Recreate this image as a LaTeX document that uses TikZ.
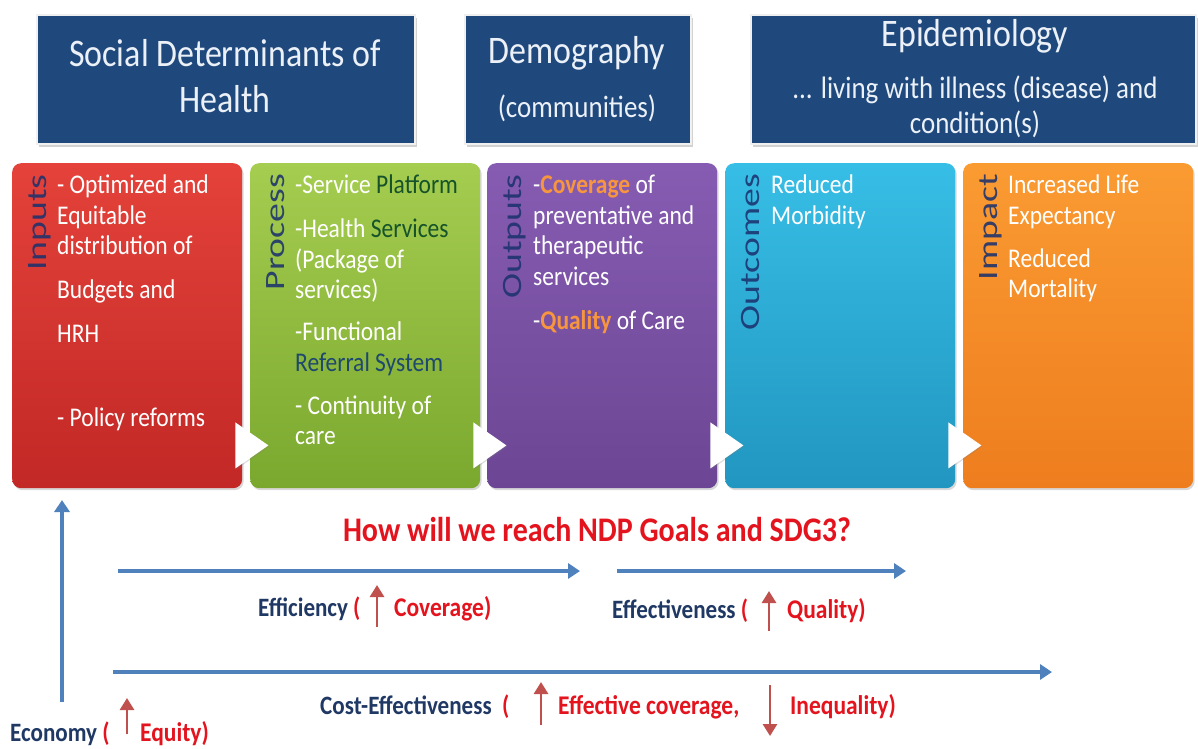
\documentclass[tikz,border=0pt]{standalone}
\usepackage{fontspec}
\usepackage{graphicx}
\setmainfont{Carlito}[FakeStretch=0.87]
\usetikzlibrary{arrows.meta,shadows,calc}

\definecolor{hdrblue}{RGB}{31,73,125}
\definecolor{hdrtxt}{RGB}{236,241,248}
\definecolor{redT}{RGB}{228,66,58}
\definecolor{redB}{RGB}{194,40,38}
\definecolor{grnT}{RGB}{165,205,80}
\definecolor{grnB}{RGB}{122,168,46}
\definecolor{purT}{RGB}{134,92,178}
\definecolor{purB}{RGB}{108,70,148}
\definecolor{cyaT}{RGB}{55,190,230}
\definecolor{cyaB}{RGB}{33,150,192}
\definecolor{oraT}{RGB}{250,155,50}
\definecolor{oraB}{RGB}{238,125,30}
\definecolor{lblblue}{RGB}{28,50,110}
\definecolor{darkgrn}{RGB}{22,82,42}
\definecolor{refblue}{RGB}{30,72,110}
\definecolor{orgword}{RGB}{247,150,62}
\definecolor{arrblue}{RGB}{79,129,189}
\definecolor{navy}{RGB}{31,56,100}
\definecolor{titlered}{RGB}{228,20,30}
\definecolor{arrred}{RGB}{192,80,77}

\tikzset{
  hdr/.style={draw=white!88!gray, line width=1.5pt, fill=hdrblue, anchor=north west,
    inner sep=0, drop shadow={opacity=0.35, shadow xshift=2pt, shadow yshift=-3pt}},
  htxtL/.style={text=hdrtxt, inner sep=0, align=center, font=\fontsize{39}{46}\selectfont},
  htxtS/.style={text=hdrtxt, inner sep=0, align=center, font=\fontsize{31}{35}\selectfont},
  card/.style={rounded corners=9pt, anchor=north west, minimum width=230pt,
    minimum height=325pt, inner sep=0,
    drop shadow={opacity=0.3, shadow xshift=1.5pt, shadow yshift=-2pt}},
  body/.style={text=white, anchor=north west, inner sep=0, align=left,
    font=\fontsize{27}{30.5}\selectfont},
  vlabel/.style={rotate=90, anchor=north east, inner sep=0, text=lblblue,
    text opacity=0.88, font=\fontsize{28}{28}\selectfont},
  tri/.style={fill=white, draw=none, drop shadow={opacity=0.25, shadow xshift=1pt, shadow yshift=-1pt}},
  flow/.style={arrblue, line width=4.5pt, -{Triangle[width=15pt,length=12pt]}},
  uparr/.style={arrred, line width=2.8pt, -{Triangle[width=14pt,length=12pt]}},
  lbl/.style={inner sep=0, anchor=base west, font=\bfseries\fontsize{26.5}{30}\selectfont, text=navy},
  rlbl/.style={inner sep=0, anchor=base west, font=\bfseries\fontsize{27}{30}\selectfont, text=titlered},
}

\begin{document}
\begin{tikzpicture}[x=1pt,y=-1pt]
\useasboundingbox[fill=white] (0,0) rectangle (1198,748);

% header boxes
\node[hdr, minimum width=378pt, minimum height=129pt] (sdh) at (36,14) {};
\node[hdr, minimum width=226pt, minimum height=129pt] (dem) at (464,14) {};
\node[hdr, minimum width=445pt, minimum height=129pt] (epi) at (750,14) {};
\node[htxtL] (sdhT) at (225,76) {Social Determinants of\\Health};
\node[htxtL] (demT1) at (577,53) {Demography};
\node[htxtS] (demT2) at (577,108) {(communities)};
\node[htxtL] (epiT1) at (975,36) {Epidemiology};
\node[htxtS] (epiT2) at (975,107) {... living with illness (disease) and\\condition(s)};

% cards
\node[card, top color=redT, bottom color=redB] (inputs) at (12,163) {};
\node[card, top color=grnT, bottom color=grnB] (process) at (250,163) {};
\node[card, top color=purT, bottom color=purB] (outputs) at (487,163) {};
\node[card, top color=cyaT, bottom color=cyaB] (outcomes) at (725,163) {};
\node[card, top color=oraT, bottom color=oraB] (impact) at (963,163) {};

% vertical labels
\node[vlabel] (inL) at ([xshift=16pt,yshift=-11pt]inputs.north west) {\scalebox{1.55}[1]{Inputs}};
\node[vlabel] (prL) at ([xshift=16pt,yshift=-11pt]process.north west) {\scalebox{1.55}[1]{Process}};
\node[vlabel] (ouL) at ([xshift=16pt,yshift=-11pt]outputs.north west) {\scalebox{1.55}[1]{Outputs}};
\node[vlabel] (ocL) at ([xshift=16pt,yshift=-11pt]outcomes.north west) {\scalebox{1.55}[1]{Outcomes}};
\node[vlabel] (imL) at ([xshift=16pt,yshift=-11pt]impact.north west) {\scalebox{1.55}[1]{Impact}};

% body texts
\node[body] (inT) at ([xshift=45pt,yshift=-12pt]inputs.north west)
  {- Optimized and\\Equitable\\distribution of\\[13.5pt]Budgets and\\[13.5pt]HRH\\[53.5pt]- Policy reforms};
\node[body] (prT) at ([xshift=45pt,yshift=-12pt]process.north west)
  {-Service \textcolor{darkgrn}{Platform}\\[13.5pt]-Health \textcolor{darkgrn}{Services}\\(Package of\\services)\\[11.5pt]-Functional\\\textcolor{refblue}{Referral System}\\[12.5pt]- Continuity of\\care};
\node[body] (ouT) at ([xshift=46pt,yshift=-12pt]outputs.north west)
  {-\textcolor{orgword}{\textbf{Coverage}} of\\preventative and\\therapeutic\\services\\[13.5pt]-\textcolor{orgword}{\textbf{Quality}} of Care};
\node[body] (ocT) at ([xshift=46pt,yshift=-12pt]outcomes.north west)
  {Reduced\\Morbidity};
\node[body] (imT) at ([xshift=45pt,yshift=-12pt]impact.north west)
  {Increased Life\\Expectancy\\[12.5pt]Reduced\\Mortality};

% white triangles
\foreach \c in {inputs,process,outputs,outcomes}{
  \fill[tri] ([shift={(-7pt,66pt)}]\c.south east) -- ([shift={(26pt,43pt)}]\c.south east)
    -- ([shift={(-7pt,20pt)}]\c.south east) -- cycle;
}

% title
\node[inner sep=0, text=titlered, font=\bfseries\fontsize{34.5}{36}\selectfont] (title) at (597,530)
  {How will we reach NDP Goals and SDG3?};

% blue flow arrows
\coordinate (ecoS) at (62,702);
\coordinate (ecoE) at (62,500);
\draw[flow] (ecoS) -- (ecoE);
\coordinate (effS) at (118,571);
\coordinate (effE) at (580,571);
\draw[flow] (effS) -- (effE);
\coordinate (efvS) at (617,571);
\coordinate (efvE) at (906,571);
\draw[flow] (efvS) -- (efvE);
\coordinate (ceS) at (113,672);
\coordinate (ceE) at (1052,672);
\draw[flow] (ceS) -- (ceE);

% Efficiency label
\node[lbl] (effA) at (258,616) {Efficiency \textcolor{titlered}{(}};
\coordinate (effU1) at (377,627);
\coordinate (effU2) at (377,585);
\draw[uparr] (effU1) -- (effU2);
\node[rlbl] (effB) at (394,616) {Coverage)};

% Effectiveness label
\node[lbl] (efvA) at (612,618) {Effectiveness \textcolor{titlered}{(}};
\coordinate (efvU1) at (769,631);
\coordinate (efvU2) at (769,591);
\draw[uparr] (efvU1) -- (efvU2);
\node[rlbl] (efvB) at (787,618) {Quality)};

% Cost-effectiveness label
\node[lbl] (ceA) at (320,714) {Cost-Effectiveness \ \textcolor{titlered}{(}};
\coordinate (ceU1) at (541,725);
\coordinate (ceU2) at (541,682);
\draw[uparr] (ceU1) -- (ceU2);
\node[rlbl] (ceB) at (558,714) {Effective coverage,};
\coordinate (ceD1) at (770,685);
\coordinate (ceD2) at (770,736);
\draw[uparr] (ceD1) -- (ceD2);
\node[rlbl] (ceC) at (790,714) {Inequality)};

% Economy label
\node[lbl] (ecoA) at (10,741) {Economy \textcolor{titlered}{(}};
\coordinate (ecoU1) at (127,734);
\coordinate (ecoU2) at (127,698);
\draw[uparr] (ecoU1) -- (ecoU2);
\node[rlbl] (ecoB) at (140,741) {Equity)};
\end{tikzpicture}
\end{document}
